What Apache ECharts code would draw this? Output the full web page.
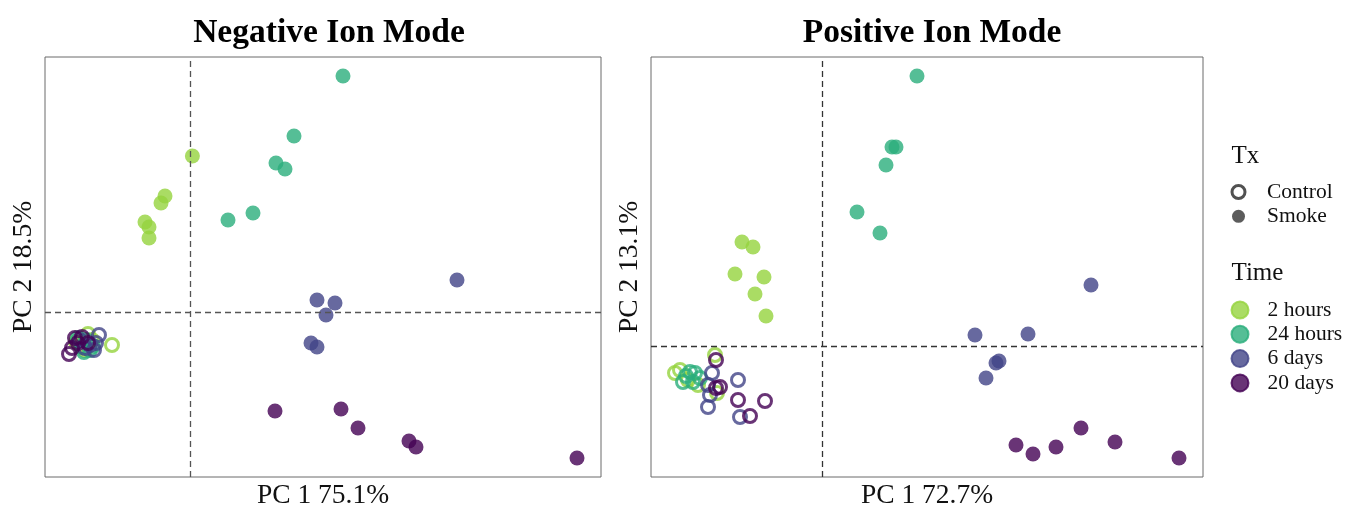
<!DOCTYPE html>
<html>
<head>
<meta charset="utf-8">
<script src="https://cdn.jsdelivr.net/npm/echarts@6/dist/echarts.min.js"></script>
<style>html,body{margin:0;padding:0;background:#fff;}#chart{width:1346px;height:507px;}</style>
</head>
<body>
<div id="chart"></div>
<script>
// ---- Data (PC1, PC2 scores) ----
const panelTitles = ["Negative Ion Mode", "Positive Ion Mode"];
const xAxisNames = ["PC 1 75.1%", "PC 1 72.7%"];
const yAxisNames = ["PC 2 18.5%", "PC 2 13.1%"];
const timeLevels = ["2 hours", "24 hours", "6 days", "20 days"];
const txLevels = ["Control", "Smoke"];
const legendTitles = ["Tx", "Time"];

// Negative ion mode
const negSmoke2h  = [[0.24,15.6],[-2.5,11.6],[-2.9,10.9],[-4.5,9.0],[-4.1,8.5],[-4.1,7.4]];
const negSmoke24h = [[15.3,23.6],[10.4,17.6],[8.6,14.9],[9.5,14.3],[6.3,9.9],[3.8,9.2]];
const negSmoke6d  = [[26.7,3.2],[12.7,1.2],[14.5,0.9],[13.6,-0.3],[12.1,-3.1],[12.7,-3.5]];
const negSmoke20d = [[8.5,-9.9],[15.1,-9.7],[16.8,-11.6],[21.9,-12.9],[22.6,-13.5],[38.7,-14.6]];
const negCtrl2h   = [[-7.8,-3.3],[-10.2,-2.2],[-11.0,-3.3],[-9.8,-2.8],[-10.5,-3.8],[-11.4,-3.0]];
const negCtrl24h  = [[-10.0,-3.8],[-10.8,-3.5],[-10.4,-2.8],[-11.2,-2.6],[-9.7,-3.4],[-10.6,-4.0]];
const negCtrl6d   = [[-9.1,-2.3],[-9.6,-3.8],[-10.0,-3.3],[-11.0,-2.8],[-10.5,-3.6],[-9.4,-3.1]];
const negCtrl20d  = [[-12.1,-4.2],[-11.5,-2.6],[-10.8,-2.5],[-11.2,-3.1],[-10.2,-3.1],[-11.8,-3.6]];

// Positive ion mode
const posSmoke2h  = [[-8.0,10.4],[-6.9,9.9],[-8.7,7.2],[-5.8,6.9],[-6.7,5.2],[-5.6,3.0]];
const posSmoke24h = [[9.5,27.0],[7.0,19.9],[7.4,19.9],[6.4,18.1],[3.5,13.4],[5.8,11.3]];
const posSmoke6d  = [[26.9,6.1],[15.3,1.1],[20.6,1.2],[17.7,-1.5],[17.4,-1.7],[16.4,-3.2]];
const posSmoke20d = [[25.9,-8.2],[29.3,-9.6],[19.4,-9.9],[21.1,-10.8],[23.4,-10.1],[35.7,-11.2]];
const posCtrl2h   = [[-10.7,-0.9],[-14.7,-2.7],[-14.2,-2.4],[-10.5,-4.7],[-13.4,-3.4],[-12.4,-3.9]];
const posCtrl24h  = [[-13.2,-2.6],[-13.9,-3.6],[-12.9,-3.6],[-12.7,-2.7],[-13.6,-3.0],[-12.2,-3.2]];
const posCtrl6d   = [[-11.0,-2.7],[-11.4,-3.9],[-11.2,-4.9],[-11.4,-6.1],[-8.4,-3.4],[-8.2,-7.1]];
const posCtrl20d  = [[-10.6,-1.4],[-10.2,-4.1],[-10.6,-4.2],[-8.4,-5.4],[-5.7,-5.5],[-7.2,-7.0]];

// Axis extents (scores)
const xRanges = [[-14.5, 41.1], [-17.1, 38.1]];
const yRanges = [[-16.5, 25.5], [-13.1, 28.9]];

// ---- Styling ----
const timeColors = ["#95d33d", "#2aae7c", "#414487", "#440154"];
const serif = "'Liberation Serif', 'Times New Roman', serif";

const panels = [
  { ctrl: [negCtrl2h, negCtrl24h, negCtrl6d, negCtrl20d], smoke: [negSmoke2h, negSmoke24h, negSmoke6d, negSmoke20d] },
  { ctrl: [posCtrl2h, posCtrl24h, posCtrl6d, posCtrl20d], smoke: [posSmoke2h, posSmoke24h, posSmoke6d, posSmoke20d] }
];

const grids = [
  { left: 45, top: 57, width: 556, height: 420 },
  { left: 651, top: 57, width: 552, height: 420 }
];

const series = [];
panels.forEach((p, pi) => {
  // zero reference lines
  series.push({
    type: 'scatter', xAxisIndex: pi, yAxisIndex: pi, data: [], silent: true,
    markLine: {
      silent: true, symbol: 'none', label: { show: false },
      lineStyle: { type: [6, 4], color: pi === 0 ? '#555' : '#333', width: 1.3 },
      data: [{ xAxis: 0 }, { yAxis: 0 }]
    }
  });
  for (let t = 0; t < 4; t++) {
    series.push({
      type: 'scatter', xAxisIndex: pi, yAxisIndex: pi, symbol: 'circle', symbolSize: 13,
      data: p.ctrl[t], silent: true,
      itemStyle: { color: 'rgba(255,255,255,0)', borderColor: timeColors[t], borderWidth: 3, opacity: 0.8 }
    });
  }
  for (let t = 0; t < 4; t++) {
    series.push({
      type: 'scatter', xAxisIndex: pi, yAxisIndex: pi, symbol: 'circle', symbolSize: 15,
      data: p.smoke[t], silent: true,
      itemStyle: { color: timeColors[t], opacity: 0.8 }
    });
  }
});

// legend-only series
series.push({ name: txLevels[0], type: 'scatter', data: [], symbol: 'circle',
  itemStyle: { color: '#fff', borderColor: '#262626', borderWidth: 3 } });
series.push({ name: txLevels[1], type: 'scatter', data: [], symbol: 'circle',
  itemStyle: { color: '#333' } });
timeLevels.forEach((name, t) => {
  series.push({ name: name, type: 'scatter', data: [], symbol: 'circle',
    itemStyle: { color: timeColors[t], opacity: 0.8, borderColor: timeColors[t], borderWidth: 2 } });
});

const nameStyle = { fontFamily: serif, fontSize: 27.5, color: '#111' };
const xAxes = [0, 1].map(i => ({
  type: 'value', gridIndex: i, min: xRanges[i][0], max: xRanges[i][1],
  name: xAxisNames[i], nameLocation: 'middle', nameGap: 5, nameTextStyle: nameStyle,
  axisLine: { show: false }, axisTick: { show: false }, axisLabel: { show: false }, splitLine: { show: false }
}));
const yAxes = [0, 1].map(i => ({
  type: 'value', gridIndex: i, min: yRanges[i][0], max: yRanges[i][1],
  name: yAxisNames[i], nameLocation: 'middle', nameGap: 7, nameTextStyle: nameStyle,
  axisLine: { show: false }, axisTick: { show: false }, axisLabel: { show: false }, splitLine: { show: false }
}));

const legendText = { fontFamily: serif, fontSize: 21.5, lineHeight: 22, color: '#111' };

const option = {
  backgroundColor: '#fff',
  animation: false,
  title: [
    { text: panelTitles[0], left: 324, top: 11.5, textAlign: 'center',
      textStyle: { fontFamily: serif, fontSize: 33.5, fontWeight: 'bold', color: '#000' } },
    { text: panelTitles[1], left: 927, top: 11.5, textAlign: 'center',
      textStyle: { fontFamily: serif, fontSize: 33.5, fontWeight: 'bold', color: '#000' } },
    { text: legendTitles[0], left: 1226.5, top: 139,
      textStyle: { fontFamily: serif, fontSize: 25, fontWeight: 'normal', color: '#111' } },
    { text: legendTitles[1], left: 1226.5, top: 256,
      textStyle: { fontFamily: serif, fontSize: 25, fontWeight: 'normal', color: '#111' } }
  ],
  legend: [
    { data: [
        { name: txLevels[0], icon: 'circle', itemStyle: { color: '#fff', borderColor: '#262626', borderWidth: 3 } },
        { name: txLevels[1], icon: 'circle', itemStyle: { color: '#333', borderWidth: 0 } }
      ],
      orient: 'vertical', left: 1230.5, top: 181, padding: 0,
      itemWidth: 13, itemHeight: 13, itemGap: 2.3,
      selectedMode: false, textStyle: Object.assign({ padding: [0, 0, 0, 17] }, legendText) },
    { data: timeLevels.map((n, t) => ({ name: n, icon: 'circle',
        itemStyle: { color: timeColors[t], opacity: 0.8, borderColor: timeColors[t], borderWidth: 2 } })),
      orient: 'vertical', left: 1230.5, top: 299, padding: 0,
      itemWidth: 17, itemHeight: 17, itemGap: 2.3,
      selectedMode: false, textStyle: Object.assign({ padding: [0, 0, 0, 14] }, legendText) }
  ],
  grid: grids.map(g => Object.assign({ show: true, borderColor: '#6b6b6b', borderWidth: 1,
    backgroundColor: 'transparent', outerBoundsMode: 'none', containLabel: false }, g)),
  xAxis: xAxes,
  yAxis: yAxes,
  series: series
};

const chart = echarts.init(document.getElementById('chart'), null, { renderer: 'canvas' });
chart.setOption(option);
</script>
</body>
</html>
